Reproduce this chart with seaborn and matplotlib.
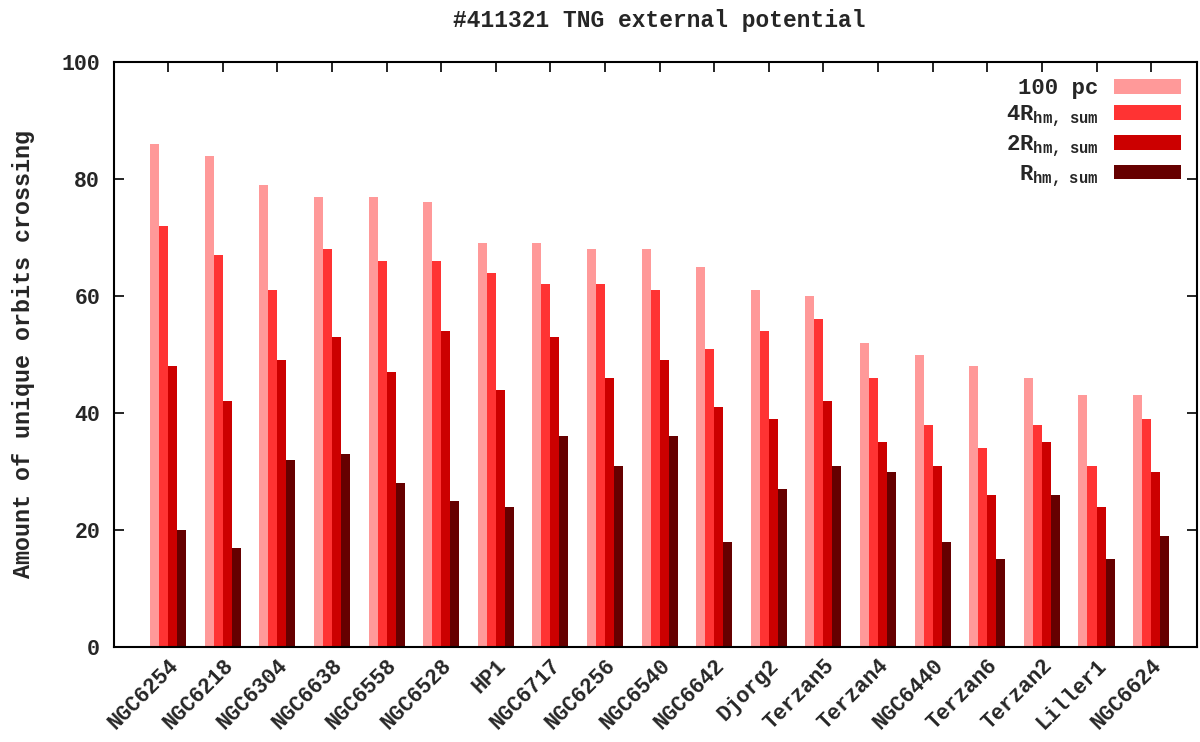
import matplotlib
matplotlib.use("Agg")
import matplotlib.pyplot as plt
import seaborn as sns
import pandas as pd

clusters = ["NGC6254", "NGC6218", "NGC6304", "NGC6638", "NGC6558", "NGC6528", "HP1",
            "NGC6717", "NGC6256", "NGC6540", "NGC6642", "Djorg2", "Terzan5", "Terzan4",
            "NGC6440", "Terzan6", "Terzan2", "Liller1", "NGC6624"]
pc100 = [86, 84, 79, 77, 77, 76, 69, 69, 68, 68, 65, 61, 60, 52, 50, 48, 46, 43, 43]
r4 = [72, 67, 61, 68, 66, 66, 64, 62, 62, 61, 51, 54, 56, 46, 38, 34, 38, 31, 39]
r2 = [48, 42, 49, 53, 47, 54, 44, 53, 46, 49, 41, 39, 42, 35, 31, 26, 35, 24, 30]
r1 = [20, 17, 32, 33, 28, 25, 24, 36, 31, 36, 18, 27, 31, 30, 18, 15, 26, 15, 19]
series_names = ["100 pc",
                r"4R$_{\mathrm{hm,\ \ sum}}$",
                r"2R$_{\mathrm{hm,\ \ sum}}$",
                r"R$_{\mathrm{hm,\ \ sum}}$"]
colors = ["#ff9999", "#ff3333", "#cc0000", "#660000"]
yticks = [0, 20, 40, 60, 80, 100]

rows = []
for name, vals in zip(series_names, [pc100, r4, r2, r1]):
    for c, v in zip(clusters, vals):
        rows.append({"cluster": c, "series": name, "value": v})
df = pd.DataFrame(rows)

sns.set_style("ticks")
plt.rcParams["font.family"] = ["Liberation Mono", "DejaVu Sans Mono"]
plt.rcParams["font.weight"] = "bold"
plt.rcParams["mathtext.fontset"] = "custom"
plt.rcParams["mathtext.rm"] = "Liberation Mono:bold"
plt.rcParams["mathtext.it"] = "Liberation Mono:bold"
plt.rcParams["mathtext.bf"] = "Liberation Mono:bold"

fig = plt.figure(figsize=(12, 7.42), dpi=100)
ax = fig.add_axes([114 / 1200, 1 - 647 / 742, (1197 - 114) / 1200, (647 - 62) / 742])

sns.barplot(data=df, x="cluster", y="value", hue="series", order=clusters,
            hue_order=series_names, palette=colors, width=0.66, dodge=True,
            saturation=1, linewidth=0, ax=ax, errorbar=None)

ax.set_xlim(-0.99, 18.84)
ax.set_ylim(0, 100)
ax.set_yticks(yticks)
ax.set_yticklabels([str(t) for t in yticks], fontsize=15.5, fontweight="bold")
ax.set_xticks(range(len(clusters)))
ax.set_xticklabels(clusters, rotation=45, ha="right", rotation_mode="anchor",
                   fontsize=15.5, fontweight="bold")
ax.tick_params(axis="both", direction="in", length=7, width=1.2, color="black",
               top=True, right=True)
ax.tick_params(axis="y", pad=10)
ax.tick_params(axis="x", pad=6)
for s in ax.spines.values():
    s.set_visible(True)
    s.set_linewidth(1.5)
    s.set_color("black")

ax.set_xlabel("")
ax.set_ylabel("Amount of unique orbits crossing", fontsize=16.8, fontweight="bold", labelpad=19)

leg = ax.legend(loc="upper right", frameon=False, markerfirst=False, fontsize=16,
                handlelength=3.0, handleheight=0.63, handletextpad=0.7,
                labelspacing=0.18, borderaxespad=0.33)
for t in leg.get_texts():
    t.set_ha("right")

fig.text(659 / 1200, 1 - 20 / 742, "#411321 TNG external potential", ha="center", va="center",
         fontsize=16.5, fontweight="bold")

fig.savefig("out.png", dpi=100, facecolor="white")
